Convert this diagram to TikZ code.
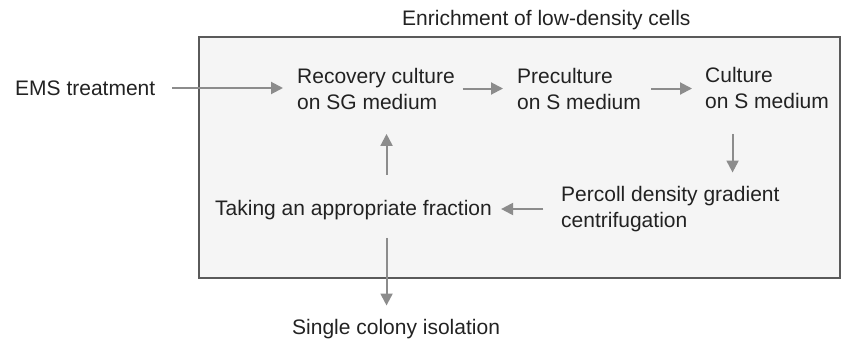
\documentclass[tikz,border=0pt]{standalone}
\usepackage{fontspec}
\setmainfont{Liberation Sans}
\usetikzlibrary{arrows.meta,positioning}
\definecolor{boxfill}{HTML}{F5F5F5}
\definecolor{boxline}{HTML}{5A5A5A}
\definecolor{flowgrey}{HTML}{8C8C8C}
\definecolor{textdark}{HTML}{222222}
\tikzset{
  txt/.style={anchor=west, align=left, inner sep=0pt, text=textdark, font=\fontsize{21}{26}\selectfont},
  flow/.style={-{Triangle[length=12pt,width=12pt]}, line width=2pt, draw=flowgrey, fill=flowgrey}
}

\begin{document}
\begin{tikzpicture}[x=1pt, y=-1pt]
\useasboundingbox (0,0) rectangle (848,341);
\draw[fill=boxfill, draw=boxline, line width=2pt] (199,37) rectangle (840,278);
\node[txt] (title) at (402,20) {Enrichment of low-density cells};
\node[txt] (ems) at (15,88) {EMS treatment};
\node[txt] (recovery) at (297,88.5) {Recovery culture\\on SG medium};
\node[txt] (pre) at (517,88.5) {Preculture\\on S medium};
\node[txt] (culture) at (705,88) {Culture\\on S medium};
\node[txt] (percoll) at (561,209) {Percoll density gradient\\centrifugation};
\node[txt] (taking) at (215,210) {Taking an appropriate fraction};
\node[txt] (single) at (292,329) {Single colony isolation};
\draw[flow, shorten <=17pt, shorten >=14pt] (ems.east) -- (ems.east -| recovery.west);
\draw[flow, shorten <=8pt, shorten >=14pt] (recovery.east) -- (recovery.east -| pre.west);
\draw[flow, shorten <=10pt, shorten >=13pt] (pre.east) -- (pre.east -| culture.west);
\draw[flow, shorten <=25pt, shorten >=13.5pt] ([xshift=-34.5pt]culture.south) -- ([xshift=-34.5pt]culture.south |- percoll.north);
\draw[flow, shorten <=18pt, shorten >=9pt] (percoll.west) -- (percoll.west -| taking.east);
\draw[flow, shorten <=25.5pt, shorten >=24.5pt] ([xshift=33pt]taking.north) -- ([xshift=33pt]taking.north |- recovery.south);
\draw[flow, shorten <=18pt, shorten >=13.5pt] ([xshift=33pt]taking.south) -- ([xshift=33pt]taking.south |- single.north);
\end{tikzpicture}
\end{document}
